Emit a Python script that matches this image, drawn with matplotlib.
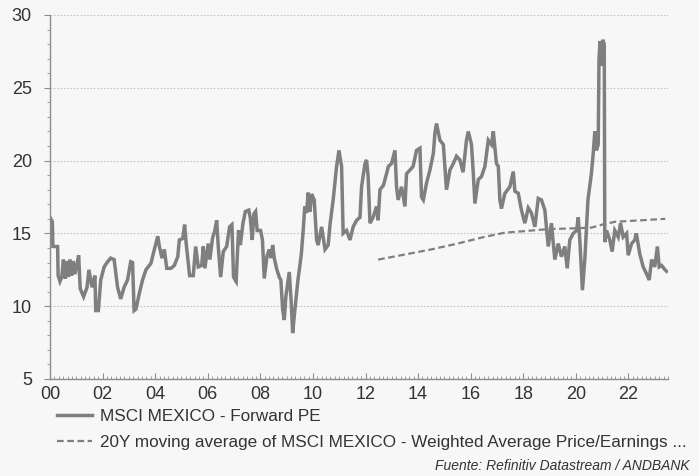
import matplotlib
matplotlib.use("Agg")
import matplotlib.pyplot as plt
from matplotlib.ticker import MultipleLocator, FuncFormatter
import numpy as np

plt.rcParams['font.family'] = ['Liberation Sans', 'DejaVu Sans']

# MSCI Mexico forward PE (decimal years)
pe_years = [
    2000.00, 2000.09, 2000.11, 2000.29, 2000.31, 2000.38, 2000.45, 2000.51, 2000.58, 2000.64,
    2000.70, 2000.76, 2000.82, 2000.88, 2000.95, 2001.05, 2001.09, 2001.15, 2001.28, 2001.41,
    2001.48, 2001.60, 2001.71, 2001.74, 2001.84, 2001.93, 2002.06, 2002.19, 2002.31, 2002.44,
    2002.57, 2002.69, 2002.82, 2002.95, 2003.07, 2003.14, 2003.20, 2003.27, 2003.40, 2003.52,
    2003.65, 2003.84, 2003.97, 2004.10, 2004.16, 2004.26, 2004.35, 2004.44, 2004.60, 2004.73,
    2004.86, 2004.92, 2005.05, 2005.12, 2005.18, 2005.31, 2005.45, 2005.54, 2005.64, 2005.77,
    2005.83, 2005.89, 2006.02, 2006.08, 2006.18, 2006.27, 2006.34, 2006.40, 2006.49, 2006.59,
    2006.72, 2006.83, 2006.92, 2006.98, 2007.08, 2007.17, 2007.24, 2007.34, 2007.43, 2007.56,
    2007.62, 2007.69, 2007.76, 2007.82, 2007.88, 2008.01, 2008.08, 2008.15, 2008.25, 2008.34,
    2008.40, 2008.47, 2008.53, 2008.63, 2008.72, 2008.78, 2008.85, 2008.91, 2008.97, 2009.04,
    2009.10, 2009.17, 2009.23, 2009.30, 2009.43, 2009.49, 2009.56, 2009.63, 2009.69, 2009.76,
    2009.82, 2009.89, 2009.95, 2010.05, 2010.14, 2010.20, 2010.33, 2010.46, 2010.58, 2010.65,
    2010.77, 2010.90, 2010.99, 2011.09, 2011.15, 2011.28, 2011.41, 2011.53, 2011.66, 2011.79,
    2011.85, 2011.98, 2012.04, 2012.10, 2012.17, 2012.29, 2012.42, 2012.48, 2012.55, 2012.68,
    2012.80, 2012.87, 2012.99, 2013.12, 2013.18, 2013.24, 2013.37, 2013.50, 2013.56, 2013.69,
    2013.81, 2013.94, 2014.07, 2014.13, 2014.20, 2014.32, 2014.45, 2014.58, 2014.64, 2014.70,
    2014.83, 2014.96, 2015.02, 2015.08, 2015.21, 2015.34, 2015.46, 2015.59, 2015.71, 2015.84,
    2015.91, 2016.03, 2016.10, 2016.16, 2016.29, 2016.41, 2016.54, 2016.67, 2016.79, 2016.86,
    2016.98, 2017.05, 2017.11, 2017.17, 2017.30, 2017.49, 2017.62, 2017.68, 2017.81, 2017.93,
    2018.06, 2018.19, 2018.31, 2018.44, 2018.57, 2018.69, 2018.82, 2018.95, 2019.07, 2019.20,
    2019.33, 2019.45, 2019.58, 2019.67, 2019.77, 2019.90, 2020.03, 2020.09, 2020.15, 2020.25,
    2020.34, 2020.46, 2020.59, 2020.66, 2020.72, 2020.78, 2020.85, 2020.88, 2020.92, 2020.97,
    2021.02, 2021.08, 2021.10, 2021.17, 2021.29, 2021.38, 2021.48, 2021.61, 2021.70, 2021.80,
    2021.93, 2021.99, 2022.12, 2022.24, 2022.30, 2022.43, 2022.56, 2022.68, 2022.79, 2022.88,
    2023.00, 2023.10, 2023.17, 2023.26, 2023.39, 2023.45,
]
pe_values = [
    16.1, 15.8, 14.1, 14.1, 12.1, 11.7, 12.0, 13.2, 11.9, 13.1,
    12.0, 13.2, 12.1, 13.1, 12.2, 13.1, 13.5, 11.2, 10.65, 11.3,
    12.5, 11.3, 12.1, 9.7, 9.7, 11.8, 12.7, 13.05, 13.3, 13.2,
    11.3, 10.5, 11.3, 11.8, 13.05, 13.0, 9.7, 9.8, 10.9, 11.8,
    12.5, 12.95, 13.9, 14.8, 14.1, 13.3, 13.9, 12.6, 12.6, 12.8,
    13.4, 14.55, 14.65, 15.6, 14.3, 12.1, 12.1, 14.1, 12.7, 12.8,
    14.1, 12.6, 14.3, 13.2, 14.65, 15.2, 15.9, 14.1, 12.0, 13.75,
    14.1, 15.45, 15.6, 12.0, 11.7, 15.2, 14.2, 15.7, 16.5, 16.6,
    16.05, 14.55, 16.35, 16.5, 15.2, 15.2, 14.55, 11.9, 13.4, 13.9,
    13.3, 14.2, 13.3, 12.5, 12.0, 11.8, 9.75, 9.05, 10.65, 11.55,
    12.35, 10.4, 8.15, 9.5, 11.8, 12.6, 13.6, 15.2, 16.85, 16.4,
    17.8, 16.5, 17.7, 17.3, 14.55, 14.2, 15.45, 13.9, 14.2, 15.6,
    17.3, 19.6, 20.7, 19.6, 15.0, 15.2, 14.55, 15.45, 15.9, 16.1,
    18.2, 19.8, 20.05, 18.9, 15.7, 16.1, 16.85, 15.9, 18.0, 18.3,
    19.1, 19.6, 19.8, 20.7, 18.2, 17.3, 18.2, 16.85, 19.1, 19.35,
    19.6, 20.7, 20.85, 17.5, 17.3, 18.45, 19.35, 20.5, 21.9, 22.55,
    21.4, 21.1, 19.6, 18.0, 19.35, 19.8, 20.3, 20.05, 19.2, 21.4,
    22.0, 21.1, 19.1, 17.05, 18.7, 18.9, 19.6, 21.4, 21.1, 22.0,
    19.8, 19.6, 17.3, 16.7, 17.75, 18.2, 19.25, 17.9, 17.75, 16.6,
    15.7, 16.75, 16.4, 15.45, 17.4, 17.3, 16.6, 14.1, 15.7, 13.2,
    14.3, 13.4, 14.1, 12.6, 14.55, 15.0, 15.2, 16.1, 14.55, 11.1,
    13.2, 17.3, 19.1, 20.5, 22.0, 20.7, 21.1, 27.0, 28.2, 26.5,
    28.3, 28.0, 14.4, 15.2, 14.55, 13.75, 15.2, 14.75, 15.7, 14.75,
    15.0, 13.5, 14.3, 14.55, 15.0, 13.6, 12.7, 12.25, 11.8, 13.2,
    12.7, 14.1, 12.7, 12.8, 12.5, 12.4,
]

# 20Y moving average of weighted average P/E
ma_years = [2012.48, 2013.5, 2014.5, 2015.5, 2016.5, 2017.3, 2018.0, 2019.0, 2020.0, 2020.6,
            2021.0, 2021.5, 2022.0, 2022.5, 2023.4]
ma_values = [13.2, 13.55, 13.9, 14.3, 14.75, 15.05, 15.15, 15.3, 15.35, 15.4,
             15.6, 15.8, 15.85, 15.9, 16.0]

bg = '#f7f7f7'
line_col = '#7f7f7f'

fig = plt.figure(figsize=(6.99, 4.76), dpi=100, facecolor=bg)
ax = fig.add_axes([0.0715, 0.2038, 0.884, 0.7647], facecolor=bg)

ax.plot(pe_years, pe_values, color=line_col, lw=2.5, solid_joinstyle='miter',
        label='MSCI MEXICO - Forward PE')
ax.plot(ma_years, ma_values, color=line_col, lw=1.6, ls=(0, (3, 1.6)),
        label='20Y moving average of MSCI MEXICO - Weighted Average Price/Earnings ...')

ax.set_xlim(2000, 2023.5)
ax.set_ylim(5, 30)
ax.xaxis.set_major_locator(MultipleLocator(2))
ax.xaxis.set_minor_locator(MultipleLocator(1 / 6))
ax.xaxis.set_major_formatter(FuncFormatter(lambda v, p: '%02d' % (int(round(v)) % 100)))
ax.yaxis.set_major_locator(MultipleLocator(5))
ax.yaxis.set_minor_locator(MultipleLocator(1))

ax.grid(axis='y', which='major', color='#c4c4c4', ls=(0, (1.5, 1.5)), lw=0.8)
ax.set_axisbelow(True)

for s in ['top', 'right']:
    ax.spines[s].set_visible(False)
for s in ['left', 'bottom']:
    ax.spines[s].set_color('#8c8c8c')
    ax.spines[s].set_linewidth(1.0)

ax.tick_params(axis='x', which='major', direction='in', length=4, color='#8c8c8c',
               labelsize=13, labelcolor='#333333', pad=5)
ax.tick_params(axis='x', which='minor', direction='in', length=2, color='#8c8c8c')
ax.tick_params(axis='y', which='major', direction='out', length=4, color='#8c8c8c',
               labelsize=13, labelcolor='#333333', pad=9)
ax.tick_params(axis='y', which='minor', direction='out', length=2, color='#8c8c8c')

fig.legend(loc='upper left', bbox_to_anchor=(0.0815, 0.141), frameon=False,
           fontsize=12.3, handlelength=2.05, handletextpad=0.47, labelspacing=0.66,
           borderaxespad=0, borderpad=0, labelcolor='#333333')

fig.text(0.987, 0.021, 'Fuente: Refinitiv Datastream / ANDBANK', ha='right', va='center',
         fontsize=10, style='italic', color='#333333')

fig.savefig('out.png', dpi=100, facecolor=bg)
